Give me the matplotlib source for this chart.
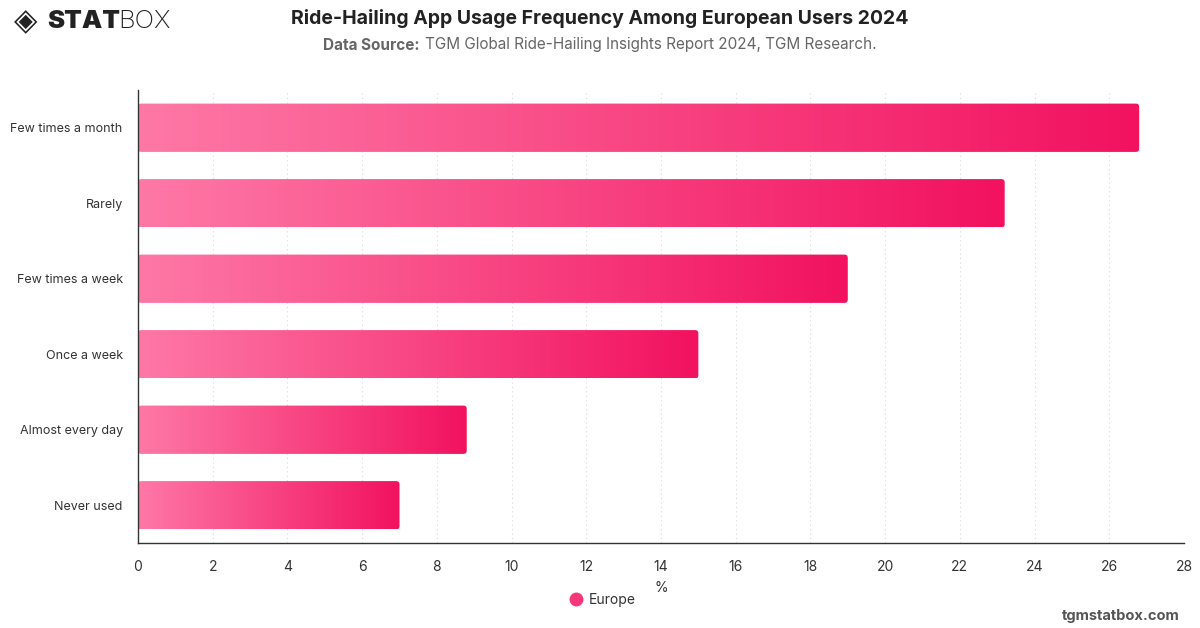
import matplotlib
matplotlib.use("Agg")
import matplotlib.pyplot as plt
import numpy as np
from matplotlib.patches import FancyBboxPatch
from matplotlib.colors import LinearSegmentedColormap
from matplotlib.lines import Line2D

plt.rcParams['font.family'] = ['Inter', 'DejaVu Sans']

categories = ["Few times a month", "Rarely", "Few times a week", "Once a week",
              "Almost every day", "Never used"]
values = [26.8, 23.2, 19.0, 15.0, 8.8, 7.0]
xticks = list(range(0, 29, 2))
series_name = "Europe"

fig = plt.figure(figsize=(12, 6.28), dpi=100)
ax = fig.add_axes([138/1200, 1-543/628, (1184-138)/1200, (543-90)/628])

cmap = LinearSegmentedColormap.from_list("pk", ["#fe78a6", "#f2125f"])
y = np.arange(len(categories))
bh = 0.64
bars = ax.barh(y, values, height=bh, color="none", edgecolor="none")

grad = np.linspace(0, 1, 256).reshape(1, -1)
for b in bars:
    x0, y0, w, h = b.get_x(), b.get_y(), b.get_width(), b.get_height()
    patch = FancyBboxPatch((x0, y0), w, h, boxstyle="round,pad=0,rounding_size=0.09",
                           mutation_aspect=0.5, facecolor="none", edgecolor="none",
                           transform=ax.transData)
    ax.add_patch(patch)
    im = ax.imshow(grad, cmap=cmap, aspect="auto", extent=(x0, x0 + w, y0 + h, y0),
                   interpolation="bicubic", zorder=2)
    im.set_clip_path(patch)
ax.set_xlim(0, 28)
ax.set_ylim(len(categories) - 0.5, -0.5)

ax.set_yticks(y)
ax.set_yticklabels(categories, fontsize=9, color="#333333")
ax.set_xticks(xticks)
ax.set_xticklabels([str(t) for t in xticks], fontsize=10, color="#333333")
ax.tick_params(axis="both", length=0)
ax.tick_params(axis="y", pad=11)
ax.tick_params(axis="x", pad=12)
for t in xticks[1:]:
    ax.axvline(t, color="#d9d9d9", linestyle=(0, (1, 3)), linewidth=0.8, zorder=0)
for s in ["top", "right"]:
    ax.spines[s].set_visible(False)
ax.spines["left"].set_color("#333333")
ax.spines["bottom"].set_color("#333333")
ax.spines["left"].set_linewidth(1)
ax.spines["bottom"].set_linewidth(1)

ax.set_xlabel("%", fontsize=10, color="#333333", labelpad=5)

# legend
fig.text(589/1200, 1-600/628, series_name, fontsize=10, color="#333333", va="center", ha="left")
fig.add_artist(Line2D([576/1200], [1-599/628], marker="o", markersize=9,
                      markerfacecolor="#f5387a", markeredgecolor="#f5387a",
                      transform=fig.transFigure))

# titles
fig.text(600/1200, 1-18/628, "Ride-Hailing App Usage Frequency Among European Users 2024",
         fontsize=14, fontweight="bold", color="#222222", ha="center", va="center")

renderer = fig.canvas.get_renderer()
t1 = fig.text(321/1200, 1-45/628, "Data Source:", fontsize=11, fontweight="bold",
              color="#666666", ha="left", va="center")
t2 = fig.text(0, 1-45/628, "TGM Global Ride-Hailing Insights Report 2024, TGM Research.",
              fontsize=11, color="#666666", ha="left", va="center")
w1 = t1.get_window_extent(renderer).width
w2 = t2.get_window_extent(renderer).width
gap = 5
total = w1 + gap + w2
start = 600 - total / 2
t1.set_x(start / 1200)
t2.set_x((start + w1 + gap) / 1200)

# logo
fig.text(14/1200, 1-22/628, "\u25c8", fontsize=22, color="#222222", ha="left", va="center",
         family="DejaVu Sans", fontweight="bold")
s1 = fig.text(47/1200, 1-22/628, "STAT", fontsize=18.5, fontweight="black", color="#222222",
              ha="left", va="center")
ws = s1.get_window_extent(renderer).width
fig.text((47 + ws - 2)/1200, 1-22/628, "BOX", fontsize=18.5, fontweight="light", color="#222222",
         ha="left", va="center")

# watermark
fig.text(1180/1200, 1-616/628, "tgmstatbox.com", fontsize=10.5, fontweight="bold",
         color="#555555", ha="right", va="center")

fig.savefig("out.png", dpi=100, facecolor="white")
